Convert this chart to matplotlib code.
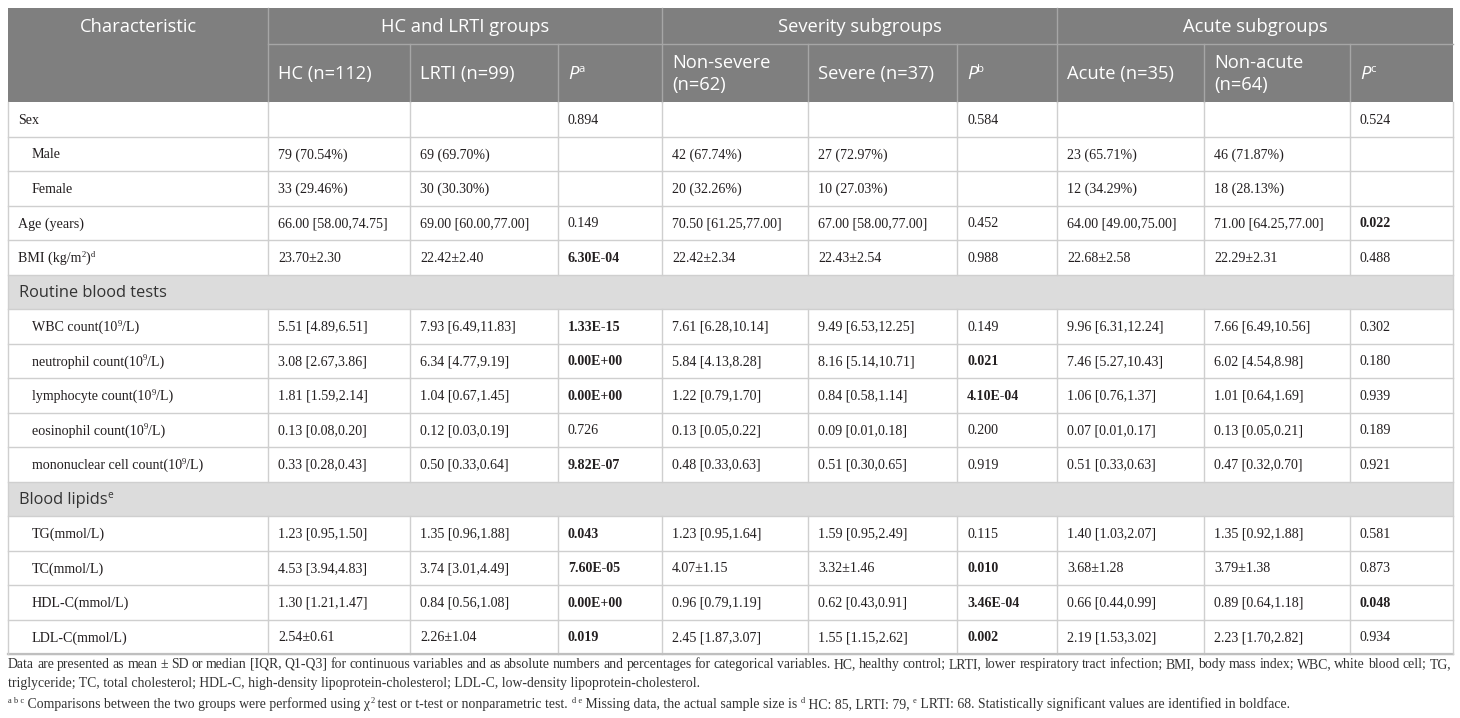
import re
import matplotlib
matplotlib.use("Agg")
import matplotlib.pyplot as plt
from matplotlib.patches import Rectangle

# ──────────────────────────────────────────────
# Datos de la tabla
# ──────────────────────────────────────────────
GROUPS = ["HC and LRTI groups", "Severity subgroups", "Acute subgroups"]
SUBHEADERS = ["HC (n=112)", "LRTI (n=99)", "P|a",
              "Non-severe\n(n=62)", "Severe (n=37)", "P|b",
              "Acute (n=35)", "Non-acute\n(n=64)", "P|c"]

# "#" = fila de sección; "  " al inicio = sangría
ROW_LABELS = ["Sex", "  Male", "  Female", "Age (years)", "BMI (kg/m^{2})^{d}",
              "#Routine blood tests",
              "  WBC count(10^{9}/L)", "  neutrophil count(10^{9}/L)",
              "  lymphocyte count(10^{9}/L)", "  eosinophil count(10^{9}/L)",
              "  mononuclear cell count(10^{9}/L)",
              "#Blood lipids^{e}",
              "  TG(mmol/L)", "  TC(mmol/L)", "  HDL-C(mmol/L)", "  LDL-C(mmol/L)"]

HC = ["", "79 (70.54%)", "33 (29.46%)", "66.00 [58.00,74.75]", "23.70±2.30",
      "5.51 [4.89,6.51]", "3.08 [2.67,3.86]", "1.81 [1.59,2.14]", "0.13 [0.08,0.20]",
      "0.33 [0.28,0.43]", "1.23 [0.95,1.50]", "4.53 [3.94,4.83]", "1.30 [1.21,1.47]",
      "2.54±0.61"]
LRTI = ["", "69 (69.70%)", "30 (30.30%)", "69.00 [60.00,77.00]", "22.42±2.40",
        "7.93 [6.49,11.83]", "6.34 [4.77,9.19]", "1.04 [0.67,1.45]", "0.12 [0.03,0.19]",
        "0.50 [0.33,0.64]", "1.35 [0.96,1.88]", "3.74 [3.01,4.49]", "0.84 [0.56,1.08]",
        "2.26±1.04"]
P_A = ["0.894", "", "", "0.149", "6.30E-04", "1.33E-15", "0.00E+00", "0.00E+00",
       "0.726", "9.82E-07", "0.043", "7.60E-05", "0.00E+00", "0.019"]
NON_SEVERE = ["", "42 (67.74%)", "20 (32.26%)", "70.50 [61.25,77.00]", "22.42±2.34",
              "7.61 [6.28,10.14]", "5.84 [4.13,8.28]", "1.22 [0.79,1.70]",
              "0.13 [0.05,0.22]", "0.48 [0.33,0.63]", "1.23 [0.95,1.64]", "4.07±1.15",
              "0.96 [0.79,1.19]", "2.45 [1.87,3.07]"]
SEVERE = ["", "27 (72.97%)", "10 (27.03%)", "67.00 [58.00,77.00]", "22.43±2.54",
          "9.49 [6.53,12.25]", "8.16 [5.14,10.71]", "0.84 [0.58,1.14]",
          "0.09 [0.01,0.18]", "0.51 [0.30,0.65]", "1.59 [0.95,2.49]", "3.32±1.46",
          "0.62 [0.43,0.91]", "1.55 [1.15,2.62]"]
P_B = ["0.584", "", "", "0.452", "0.988", "0.149", "0.021", "4.10E-04", "0.200",
       "0.919", "0.115", "0.010", "3.46E-04", "0.002"]
ACUTE = ["", "23 (65.71%)", "12 (34.29%)", "64.00 [49.00,75.00]", "22.68±2.58",
         "9.96 [6.31,12.24]", "7.46 [5.27,10.43]", "1.06 [0.76,1.37]",
         "0.07 [0.01,0.17]", "0.51 [0.33,0.63]", "1.40 [1.03,2.07]", "3.68±1.28",
         "0.66 [0.44,0.99]", "2.19 [1.53,3.02]"]
NON_ACUTE = ["", "46 (71.87%)", "18 (28.13%)", "71.00 [64.25,77.00]", "22.29±2.31",
             "7.66 [6.49,10.56]", "6.02 [4.54,8.98]", "1.01 [0.64,1.69]",
             "0.13 [0.05,0.21]", "0.47 [0.32,0.70]", "1.35 [0.92,1.88]", "3.79±1.38",
             "0.89 [0.64,1.18]", "2.23 [1.70,2.82]"]
P_C = ["0.524", "", "", "0.022", "0.488", "0.302", "0.180", "0.939", "0.189",
       "0.921", "0.581", "0.873", "0.048", "0.934"]

COLUMNS = [HC, LRTI, P_A, NON_SEVERE, SEVERE, P_B, ACUTE, NON_ACUTE, P_C]
P_COLS = {2, 5, 8}

FOOTNOTES = [
    "Data are presented as mean ± SD or median [IQR, Q1-Q3] for continuous variables and as "
    "absolute numbers and percentages for categorical variables. HC, healthy control; LRTI, "
    "lower respiratory tract infection; BMI, body mass index; WBC, white blood cell; TG,",
    "triglyceride; TC, total cholesterol; HDL-C, high-density lipoprotein-cholesterol; "
    "LDL-C, low-density lipoprotein-cholesterol.",
    "^{a b c} Comparisons between the two groups were performed using χ^{2} test or t-test "
    "or nonparametric test. ^{d e} Missing data, the actual sample size is ^{d} HC: 85, "
    "LRTI: 79, ^{e} LRTI: 68. Statistically significant values are identified in boldface.",
]

# ──────────────────────────────────────────────
# Geometría (en píxeles)
# ──────────────────────────────────────────────
W, H = 1460, 718
COL_X = [8, 268, 410, 558, 662, 808, 957, 1057, 1204, 1350, 1453]
Y_TOP, Y_MID, Y_HEAD = 8, 44, 102
ROW_H = 34.5

HEAD_BG = "#7f7f7f"
SECT_BG = "#dcdcdc"
GRID = "#cfcfcf"
TXT = "#231f20"
SERIF = ["Liberation Serif", "DejaVu Serif"]
SANS = ["Open Sans", "DejaVu Sans"]
BODY_FS = 10.1
HEAD_FS = 13.2
SECT_FS = 11.8
NOTE_FS = 9.9

fig = plt.figure(figsize=(W / 100, H / 100), dpi=100)
ax = fig.add_axes([0, 0, 1, 1])
ax.set_xlim(0, W)
ax.set_ylim(H, 0)
ax.axis("off")
renderer = fig.canvas.get_renderer()


def parse(s):
    parts = []
    for chunk in re.split(r"(\^\{[^}]*\})", s):
        if not chunk:
            continue
        if chunk.startswith("^{"):
            parts.append((chunk[2:-1], "sup"))
        else:
            parts.append((chunk, "n"))
    return parts


def rich(x, y, parts, size, family, color=TXT, ha="left", weight="normal"):
    """Dibuja texto con superíndices/itálicas, con línea base en y."""
    arts = []
    cx = x
    for txt, kind in parts:
        fs = size * 0.62 if kind == "sup" else size
        dy = -size * 100 / 72 * 0.36 if kind == "sup" else 0
        t = ax.text(cx, y + dy, txt, fontsize=fs, family=family, color=color,
                    style="italic" if kind == "it" else "normal",
                    weight="bold" if kind == "bold" else weight,
                    va="baseline", ha="left")
        cx += t.get_window_extent(renderer).width
        arts.append(t)
    if ha == "center":
        shift = (cx - x) / 2
        for t in arts:
            t.set_x(t.get_position()[0] - shift)
    return cx


def justified(x0, x1, y, text, size, family, color):
    words = text.split(" ")
    arts, total = [], 0
    for w in words:
        t = ax.text(x0, y, w, fontsize=size, family=family, color=color,
                    va="baseline", ha="left")
        wd = t.get_window_extent(renderer).width
        arts.append((t, wd))
        total += wd
    gap = (x1 - x0 - total) / (len(words) - 1)
    cx = x0
    for t, wd in arts:
        t.set_x(cx)
        cx += wd + gap


def base(mid, size):
    return mid + size * 100 / 72 * 0.33


# ── Encabezado ──
ax.add_patch(Rectangle((COL_X[0], Y_TOP), COL_X[-1] - COL_X[0], Y_HEAD - Y_TOP,
                       facecolor=HEAD_BG, edgecolor="none"))
ax.plot([COL_X[1], COL_X[-1]], [Y_MID, Y_MID], color="#a6a6a6", lw=1)
for i, x in enumerate(COL_X[1:-1], start=1):
    y0 = Y_TOP if (i - 1) % 3 == 0 else Y_MID
    ax.plot([x, x], [y0, Y_HEAD], color="#a6a6a6", lw=1)

rich((COL_X[0] + COL_X[1]) / 2, base((Y_TOP + Y_MID) / 2, HEAD_FS),
     [("Characteristic", "n")], HEAD_FS, SANS, color="white", ha="center")
for g, name in enumerate(GROUPS):
    xc = (COL_X[1 + 3 * g] + COL_X[4 + 3 * g]) / 2
    rich(xc, base((Y_TOP + Y_MID) / 2, HEAD_FS), [(name, "n")], HEAD_FS, SANS,
         color="white", ha="center")

for j, lab in enumerate(SUBHEADERS):
    x = COL_X[1 + j] + 10
    midh = (Y_MID + Y_HEAD) / 2
    if "|" in lab:
        p, s = lab.split("|")
        rich(x, base(midh, HEAD_FS), [(p, "it"), (s, "sup")], HEAD_FS, SANS, color="white")
    elif "\n" in lab:
        l1, l2 = lab.split("\n")
        rich(x, base(midh - 11, HEAD_FS), [(l1, "n")], HEAD_FS, SANS, color="white")
        rich(x, base(midh + 11, HEAD_FS), [(l2, "n")], HEAD_FS, SANS, color="white")
    else:
        rich(x, base(midh, HEAD_FS), [(lab, "n")], HEAD_FS, SANS, color="white")

# ── Cuerpo ──
data_idx = 0
for r, label in enumerate(ROW_LABELS):
    y0 = Y_HEAD + r * ROW_H
    mid = y0 + ROW_H / 2
    if label.startswith("#"):
        ax.add_patch(Rectangle((COL_X[0], y0), COL_X[-1] - COL_X[0], ROW_H,
                               facecolor=SECT_BG, edgecolor="none"))
        rich(COL_X[0] + 11, base(mid, SECT_FS), parse(label[1:]), SECT_FS, SANS,
             color="#333333")
    else:
        for x in COL_X[1:-1]:
            ax.plot([x, x], [y0, y0 + ROW_H], color=GRID, lw=1)
        indent = 14 if label.startswith("  ") else 0
        rich(COL_X[0] + 10 + indent, base(mid, BODY_FS), parse(label.strip()),
             BODY_FS, SERIF)
        for j, col in enumerate(COLUMNS):
            val = col[data_idx]
            if not val:
                continue
            bold = j in P_COLS and float(val) < 0.05
            rich(COL_X[1 + j] + 10, base(mid, BODY_FS),
                 [(val, "bold" if bold else "n")], BODY_FS, SERIF)
        data_idx += 1
    ax.plot([COL_X[0], COL_X[-1]], [y0 + ROW_H, y0 + ROW_H], color=GRID, lw=1)

y_bot = Y_HEAD + len(ROW_LABELS) * ROW_H
ax.plot([COL_X[0], COL_X[-1]], [y_bot, y_bot], color="#bfbfbf", lw=1.6)
for x in (COL_X[0], COL_X[-1]):
    ax.plot([x, x], [Y_HEAD, y_bot], color=GRID, lw=1)

# ── Notas al pie ──
NOTE_Y = [668, 687, 708]
justified(COL_X[0], COL_X[-1] - 2, NOTE_Y[0], FOOTNOTES[0], NOTE_FS, SERIF, "#333333")
rich(COL_X[0], NOTE_Y[1], parse(FOOTNOTES[1]), NOTE_FS, SERIF, color="#333333")
rich(COL_X[0], NOTE_Y[2], parse(FOOTNOTES[2]), NOTE_FS, SERIF, color="#333333")

fig.savefig("out.png", dpi=100)
